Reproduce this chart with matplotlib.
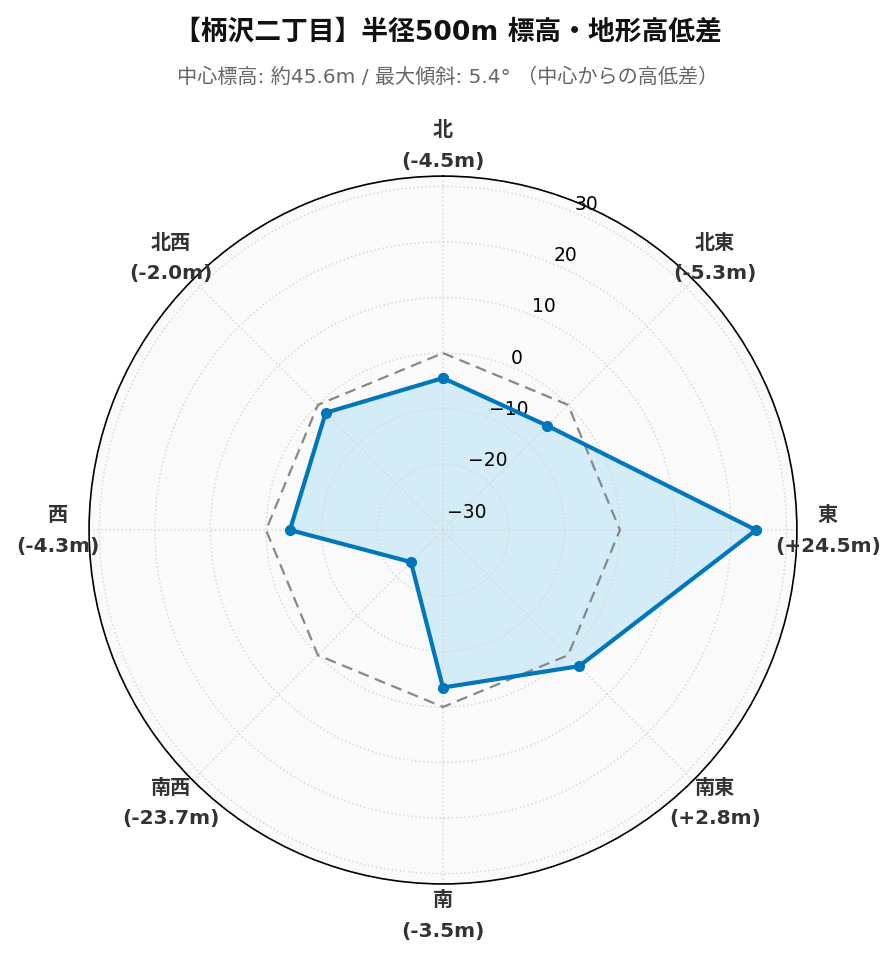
import matplotlib
matplotlib.use('Agg')
import matplotlib.pyplot as plt
import numpy as np

plt.rcParams['font.family'] = ['DejaVu Sans', 'Noto Sans CJK JP']
plt.rcParams['axes.unicode_minus'] = True

# 方位と中心からの高低差 (m)
directions = ['北', '北東', '東', '南東', '南', '南西', '西', '北西']
diffs = [-4.5, -5.3, 24.5, 2.8, -3.5, -23.7, -4.3, -2.0]
r_ticks = [-30, -20, -10, 0, 10, 20, 30]

title = '【柄沢二丁目】半径500m 標高・地形高低差'
subtitle = '中心標高: 約45.6m / 最大傾斜: 5.4° （中心からの高低差）'

n = len(directions)
angles = np.linspace(0, 2 * np.pi, n, endpoint=False)
closed_ang = np.append(angles, angles[0])
closed_val = np.append(diffs, diffs[0])
lim = max(abs(v) for v in diffs) * 1.3

fig = plt.figure(figsize=(8.96, 9.62), dpi=100)
ax = fig.add_axes([0.0994, 0.080, 0.790, 0.736], projection='polar')
ax.set_theta_zero_location('N')
ax.set_theta_direction(-1)
ax.set_facecolor('#fafafa')
ax.set_ylim(-lim, lim)

# 塗りはグリッドと目盛の下に
ax.fill(closed_ang, closed_val, color='#aee0f5', alpha=0.5, zorder=0.8)

# 基準線 (高低差0)
ax.plot(closed_ang, np.zeros_like(closed_ang), color='#888888', lw=1.6,
        ls=(0, (5, 3)), zorder=2)
ax.plot(closed_ang, closed_val, color='#0077bb', lw=3, marker='o',
        markersize=7, zorder=4)

ax.set_xticks(angles)
ax.set_xticklabels([])
ax.set_yticks(r_ticks)
ax.set_yticklabels([str(t) if t >= 0 else '\u2212' + str(-t) for t in r_ticks],
                   fontsize=13.5, color='black')
ax.set_rlabel_position(22.5)
ax.grid(True, color='#d8d8d8', ls=':', lw=1.1)
ax.spines['polar'].set_color('black')
ax.spines['polar'].set_linewidth(1.2)

label_r = lim + (lim * 2) * (385 / 354 - 1)
for ang, name, v in zip(angles, directions, diffs):
    ax.text(ang, label_r, f'{name}\n({v:+.1f}m)' if v > 0 else f'{name}\n({v:.1f}m)',
            ha='center', va='center', fontsize=14.5, fontweight='bold',
            color='#333333', linespacing=1.75, clip_on=False)

fig.text(0.5, 0.966, title, ha='center', va='center', fontsize=19.3,
         fontweight='bold', color='#111111')
fig.text(0.5, 0.920, subtitle, ha='center', va='center', fontsize=14.5,
         color='#666666')

fig.savefig('out.png', dpi=100, facecolor='white')
